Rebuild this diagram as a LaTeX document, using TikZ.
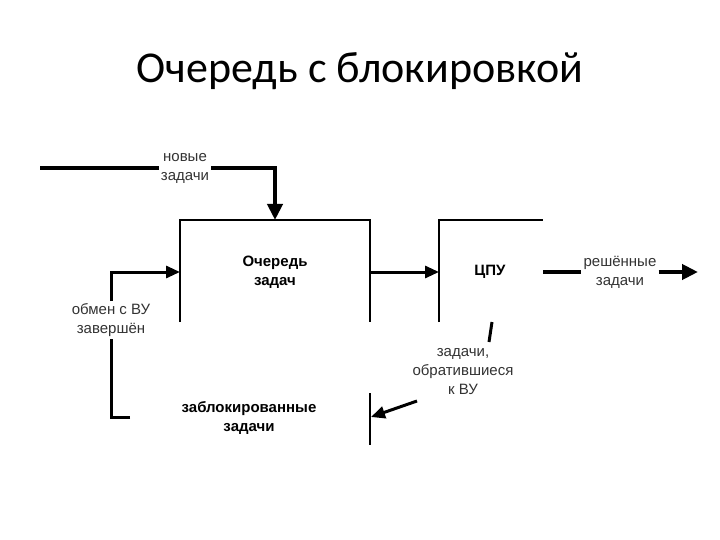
\documentclass[tikz,border=0pt]{standalone}
\usepackage{fontspec}
\setmainfont{Liberation Sans}
\newfontfamily\titlefont{Carlito}
\usetikzlibrary{arrows.meta}
\tikzset{
  lbl/.style={font=\fontsize{15}{19}\selectfont, align=center, text=black!80, inner sep=2pt},
  blbl/.style={font=\fontsize{15}{19}\selectfont\bfseries, align=center, inner sep=1pt},
  wall/.style={line width=1.5pt},
  fatflow/.style={line width=4pt, -{Triangle[length=16pt,width=15pt]}},
  fatline/.style={line width=4pt},
  midflow/.style={line width=3pt, -{Triangle[length=14pt,width=12pt]}},
  midline/.style={line width=3pt},
}
\begin{document}
\begin{tikzpicture}[x=1pt,y=-1pt]
\useasboundingbox (0,0) rectangle (720,540);
% title
\node[font=\titlefont\fontsize{44}{50}\selectfont, anchor=base] (title) at (360,83) {Очередь с блокировкой};

% queue box
\coordinate (qBL) at (180,322);
\coordinate (qTL) at (180,220);
\coordinate (qTR) at (370,220);
\coordinate (qBR) at (370,322);
\draw[wall] (qBL) -- (qTL) -- (qTR) -- (qBR);
\node[blbl] (queue) at (275,272) {Очередь\\задач};

% blocked part
\coordinate (bT) at (370,393);
\coordinate (bB) at (370,445);
\draw[wall] (bT) -- (bB);
\node[blbl] (blocked) at (249,418) {заблокированные\\задачи};

% CPU
\coordinate (cBL) at (439,322);
\coordinate (cTL) at (439,220);
\coordinate (cTR) at (543,220);
\draw[wall] (cBL) -- (cTL) -- (cTR);
\node[blbl] (cpu) at (490,272) {ЦПУ};

% incoming new tasks
\coordinate (inStart) at (40,168);
\coordinate (qIn) at (275,220);
\node[lbl, minimum height=0pt] (newLbl) at (185,168) {новые\\задачи};
\draw[fatline] (inStart) -- (inStart -| newLbl.west);
\draw[fatflow] (inStart -| newLbl.east) -| (qIn);

% queue -> CPU
\coordinate (qOut) at (370,272);
\coordinate (cIn) at (439,272);
\draw[midflow] (qOut) -- (cIn);

% CPU -> done
\coordinate (cOut) at (543,272);
\coordinate (doneEnd) at (698,272);
\node[lbl] (doneLbl) at (620,272) {решённые\\задачи};
\draw[fatline] (cOut) -- (cOut -| doneLbl.west);
\draw[fatflow] (cOut -| doneLbl.east) -- (doneEnd);

% CPU -> blocked (I/O request)
\coordinate (ioA) at (492,322);
\coordinate (ioB) at (489,342);
\draw[midline] (ioA) -- (ioB);
\node[lbl] (ioLbl) at (463,372) {задачи,\\обратившиеся\\к ВУ};
\coordinate (ioC) at (417,401);
\coordinate (bIn) at (371,417);
\draw[midflow] (ioC) -- (bIn);

% I/O complete -> queue
\coordinate (retBot) at (130,417);
\coordinate (retCorner) at (111,417);
\coordinate (retTop) at (111,272);
\coordinate (qLeftIn) at (180,272);
\node[lbl, fill=white] (retLbl) at (111,320) {обмен с ВУ\\завершён};
\draw[midline] (retBot) -- (retCorner) -- (retLbl.south);
\draw[midflow] (retLbl.north) -- (retTop) -- (qLeftIn);
\end{tikzpicture}
\end{document}
